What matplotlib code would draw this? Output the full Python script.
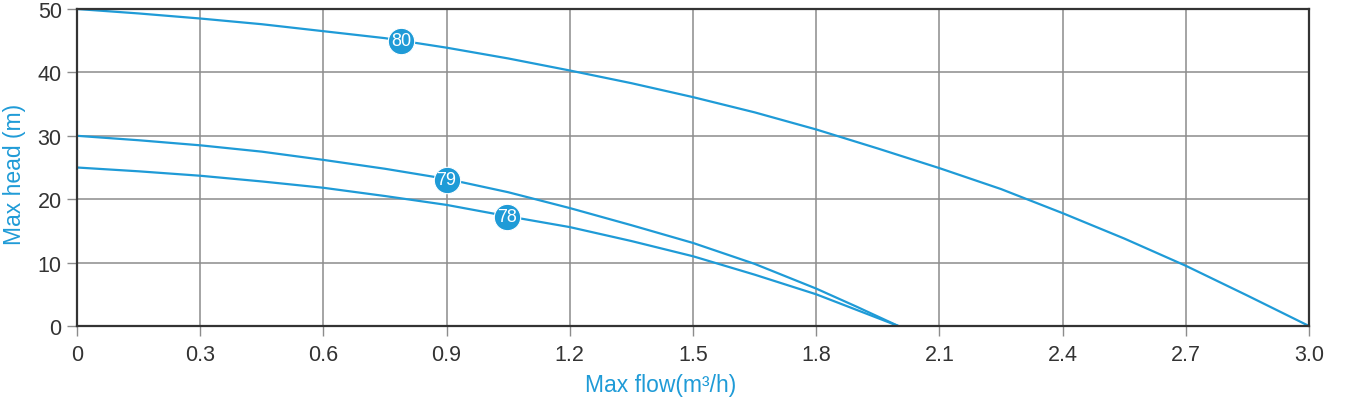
import matplotlib
matplotlib.use("Agg")
import matplotlib.pyplot as plt

# Data
flow80 = [0, 0.15, 0.3, 0.45, 0.6, 0.75, 0.9, 1.05, 1.2, 1.35, 1.5, 1.65, 1.8, 1.95, 2.1, 2.25, 2.4, 2.55, 2.7, 2.85, 3.0]
head80 = [50, 49.3, 48.5, 47.6, 46.5, 45.4, 43.9, 42.2, 40.3, 38.3, 36.1, 33.7, 31.0, 28.0, 24.9, 21.6, 17.8, 13.8, 9.5, 4.8, 0]

flow79 = [0, 0.15, 0.3, 0.45, 0.6, 0.75, 0.9, 1.05, 1.2, 1.35, 1.5, 1.65, 1.8, 1.9, 2.0]
head79 = [30, 29.3, 28.5, 27.5, 26.2, 24.8, 23.2, 21.1, 18.6, 15.9, 13.1, 9.8, 5.9, 3.0, 0]

flow78 = [0, 0.15, 0.3, 0.45, 0.6, 0.75, 0.9, 1.05, 1.2, 1.35, 1.5, 1.65, 1.8, 1.9, 2.0]
head78 = [25, 24.4, 23.7, 22.8, 21.8, 20.5, 19.1, 17.3, 15.6, 13.4, 11.0, 8.1, 5.0, 2.5, 0]

curve_names = ["80", "79", "78"]
label_flow = [0.79, 0.9, 1.048]
label_head = [45.0, 23.1, 17.2]

x_ticks = [0, 0.3, 0.6, 0.9, 1.2, 1.5, 1.8, 2.1, 2.4, 2.7, 3.0]
x_tick_labels = ["0", "0.3", "0.6", "0.9", "1.2", "1.5", "1.8", "2.1", "2.4", "2.7", "3.0"]
y_ticks = [0, 10, 20, 30, 40, 50]

BLUE = "#1f9bd7"
TEXT = "#333333"
GRID = "#8c8c8c"

plt.rcParams['font.family'] = ['Liberation Sans', 'DejaVu Sans']

fig = plt.figure(figsize=(13.49, 4.02), dpi=100)
ax = fig.add_axes([77 / 1349, 1 - 327 / 402, (1309 - 77) / 1349, (327 - 10) / 402])

ax.set_xlim(0, 3.0)
ax.set_ylim(0, 50)

for fx, hy in [(flow80, head80), (flow79, head79), (flow78, head78)]:
    ax.plot(fx, hy, color=BLUE, lw=1.6, solid_joinstyle='round', zorder=3)

for name, fx, hy in zip(curve_names, label_flow, label_head):
    ax.plot([fx], [hy], marker='o', ms=19, color=BLUE, mec='white', mew=0.8, zorder=4)
    ax.text(fx, hy, name, color='white', fontsize=13,
            family=['Liberation Sans Narrow', 'Liberation Sans', 'DejaVu Sans'],
            ha='center', va='center', zorder=5)

ax.set_xticks(x_ticks)
ax.set_xticklabels(x_tick_labels)
ax.set_yticks(y_ticks)
ax.grid(True, color=GRID, lw=1.1, zorder=1)
ax.set_axisbelow(True)

ax.tick_params(axis='both', direction='out', length=7, width=1.0, color=GRID,
               labelsize=15.5, labelcolor=TEXT)
ax.tick_params(axis='x', pad=6)
ax.tick_params(axis='y', pad=4)

for s in ax.spines.values():
    s.set_color(TEXT)
    s.set_linewidth(1.6)
    s.set_zorder(6)

ax.set_xlabel("Max flow(m³/h)", color=BLUE, fontsize=16.5)
ax.xaxis.set_label_coords(0.474, -0.148)
ax.set_ylabel("Max head (m)", color=BLUE, fontsize=16.5)
ax.yaxis.set_label_coords(-0.041, 0.48)

fig.savefig("out.png", dpi=100)
